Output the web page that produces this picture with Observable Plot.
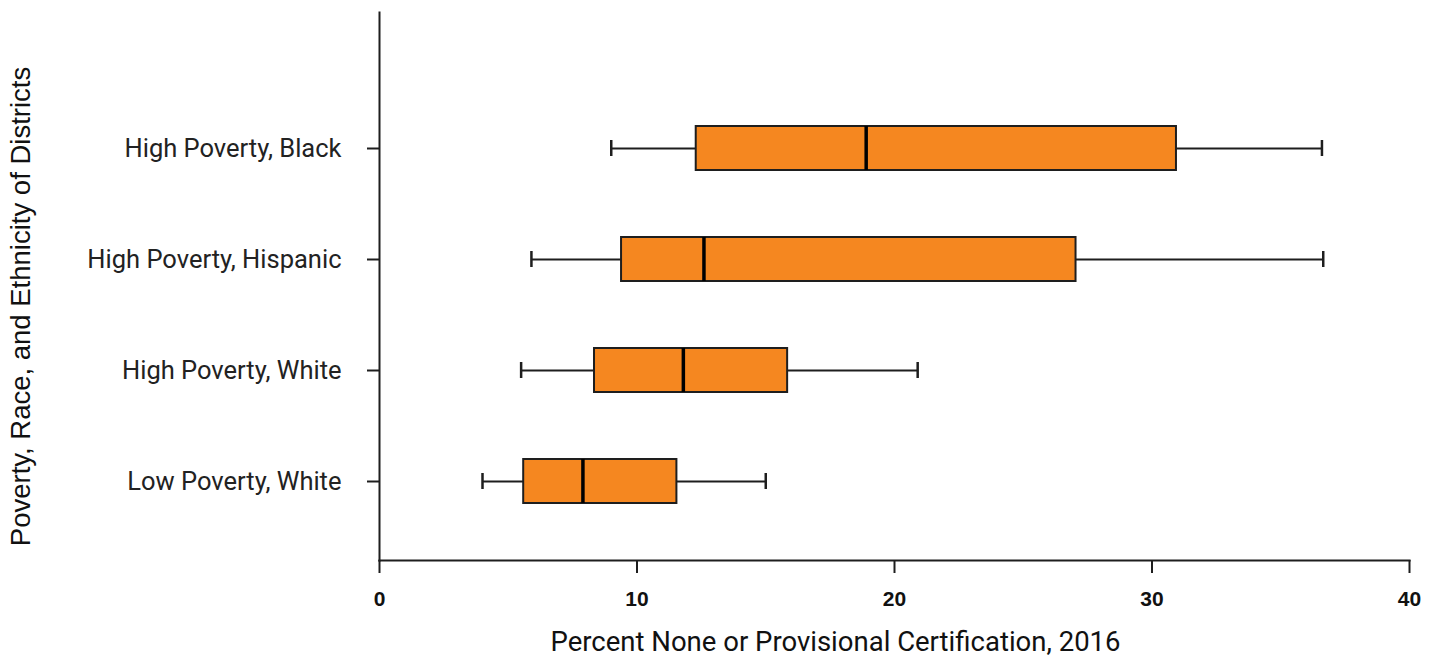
<!DOCTYPE html>
<html>
<head>
<meta charset="utf-8">
<script src="https://cdn.jsdelivr.net/npm/d3@7"></script>
<script src="https://cdn.jsdelivr.net/npm/@observablehq/plot@0.6"></script>
<style>
  html, body { margin: 0; padding: 0; background: #fff; }
  #chart svg { display: block; }
  #chart g[aria-label="x-axis tick label"] text { font-family: 'Liberation Sans', Arial, sans-serif; font-size: 21px; font-weight: bold; fill: #111; }
  #chart g[aria-label="y-axis tick label"] text { font-family: Roboto, 'DejaVu Sans', sans-serif; font-size: 25.5px; fill: #222; }
</style>
</head>
<body>
<div id="chart"></div>
<script>
// Categories (top to bottom)
const groups = ["High Poverty, Black", "High Poverty, Hispanic", "High Poverty, White", "Low Poverty, White"];
// Five-number summaries
const whiskerLow  = [9.0, 5.9, 5.5, 4.0];
const q1Values    = [12.3, 9.4, 8.35, 5.6];
const medians     = [18.9, 12.6, 11.8, 7.9];
const q3Values    = [30.95, 27.05, 15.85, 11.55];
const whiskerHigh = [36.6, 36.65, 20.9, 15.0];
const xTicks = [0, 10, 20, 30, 40];
const xTitle = "Percent None or Provisional Certification, 2016";
const yTitle = "Poverty, Race, and Ethnicity of Districts";

const data = groups.map((g, i) => ({
  group: g, lo: whiskerLow[i], q1: q1Values[i], median: medians[i], q3: q3Values[i], hi: whiskerHigh[i]
}));

const ink = "#1e1e1e";
const orange = "#F58720";
const dinFont = "Roboto, 'DejaVu Sans', sans-serif";

const chart = Plot.plot({
  width: 1442,
  height: 662,
  marginLeft: 379,
  marginRight: 33,
  marginTop: 12,
  marginBottom: 102,
  style: { background: "#fff", color: ink },
  x: { domain: [0, 40], ticks: xTicks },
  y: { type: "band", domain: groups, paddingInner: 0.6, paddingOuter: 0.5, insetTop: 58 },
  marks: [
    Plot.frame({ anchor: "left", stroke: ink, strokeWidth: 2 }),
    Plot.frame({ anchor: "bottom", stroke: ink, strokeWidth: 2.2 }),
    Plot.axisX({
      ticks: xTicks, tickSize: 13, tickPadding: 18, tickFormat: d => String(d),
      strokeWidth: 2, stroke: ink, label: null
    }),
    Plot.axisY({
      tickSize: 12, tickPadding: 26, strokeWidth: 2, stroke: ink, label: null
    }),
    // whiskers
    Plot.ruleY(data, { y: "group", x1: "lo", x2: "hi", stroke: ink, strokeWidth: 2 }),
    Plot.tickX(data, { x: "lo", y: "group", stroke: ink, strokeWidth: 2.5, insetTop: 14, insetBottom: 14 }),
    Plot.tickX(data, { x: "hi", y: "group", stroke: ink, strokeWidth: 2.5, insetTop: 14, insetBottom: 14 }),
    // boxes
    Plot.barX(data, { y: "group", x1: "q1", x2: "q3", fill: orange, stroke: ink, strokeWidth: 2 }),
    // medians
    Plot.tickX(data, { x: "median", y: "group", stroke: "#000", strokeWidth: 3.5 }),
    // titles
    Plot.text([xTitle], {
      frameAnchor: "bottom", textAnchor: "middle", dx: -59, dy: 90, fontFamily: dinFont, fontSize: 27.5, fill: "#111"
    }),
    Plot.text([yTitle], {
      frameAnchor: "left", textAnchor: "middle", rotate: -90, dx: -358, dy: 20,
      fontFamily: "'Liberation Sans', Arial, sans-serif", fontSize: 27.5, fill: "#111"
    })
  ]
});
document.getElementById("chart").appendChild(chart);
</script>
</body>
</html>
